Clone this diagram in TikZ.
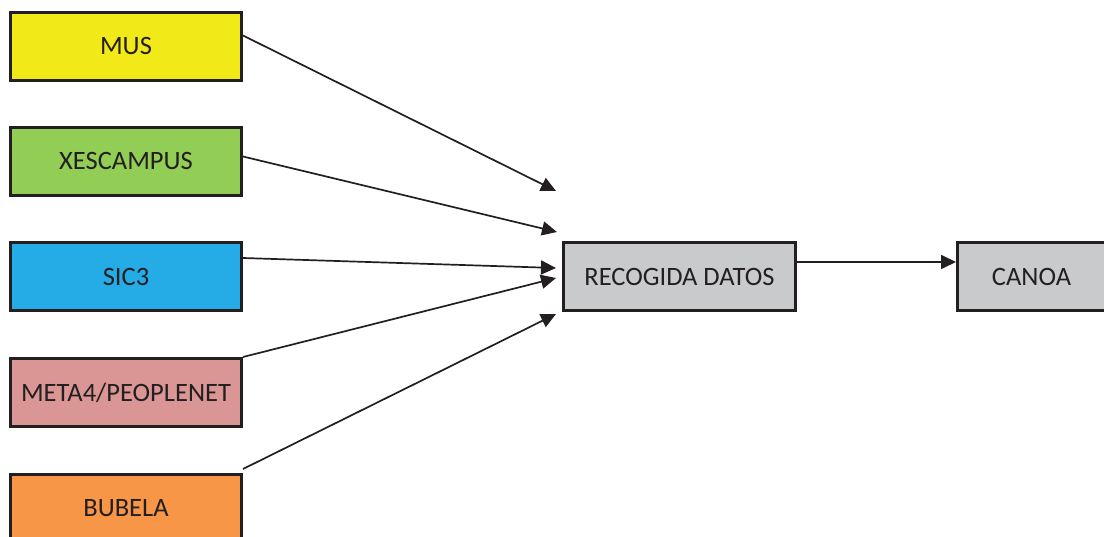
\documentclass[tikz,border=0pt]{standalone}
\usepackage{fontspec}
\setmainfont{Carlito}
\usepackage{xcolor}
\usetikzlibrary{arrows.meta, positioning}
\definecolor{musyellow}{HTML}{F2EA18}
\definecolor{xesgreen}{HTML}{92CD55}
\definecolor{sicblue}{HTML}{25ABE5}
\definecolor{metapink}{HTML}{DA9695}
\definecolor{bubelaorange}{HTML}{F79646}
\definecolor{datosgray}{HTML}{C9CACC}
\definecolor{inkdark}{HTML}{231F20}

\begin{document}
\begin{tikzpicture}[
    x=1pt, y=-1pt,
    source/.style={rectangle, draw=inkdark, line width=3pt, minimum width=231pt, minimum height=68pt, text=inkdark, font=\fontsize{26.5}{30}\selectfont},
    stage/.style={source, fill=datosgray},
    arrow/.style={-{Triangle[length=15pt, width=14pt]}, line width=1.7pt, color=inkdark}
]
\useasboundingbox (0,0) rectangle (1104,537);

% Source systems
\node[source, fill=musyellow] (mus) at (126,46.5) {MUS};
\node[source, fill=xesgreen] (xescampus) at (126,161.5) {XESCAMPUS};
\node[source, fill=sicblue] (sic) at (126,277) {SIC3};
\node[source, fill=metapink] (meta) at (126,392.5) {META4/PEOPLENET};
\node[source, fill=bubelaorange] (bubela) at (126,508.5) {BUBELA};

% Data collection and target
\node[stage, minimum width=232pt] (datos) at (679.5,277) {RECOGIDA DATOS};
\node[stage, minimum width=148pt] (canoa) at (1031.5,277) {CANOA};

% Arrow tips in front of the collection box
\coordinate (tipmus) at (556,191);
\coordinate (tipxes) at (557,232);
\coordinate (tipsic) at (556,268);
\coordinate (tipmeta) at (556,278);
\coordinate (tipbubela) at (556,314);

\draw[arrow] ([yshift=11pt]mus.east) -- (tipmus);
\draw[arrow] ([yshift=5pt]xescampus.east) -- (tipxes);
\draw[arrow] ([yshift=19pt]sic.east) -- (tipsic);
\draw[arrow] (meta.north east) -- (tipmeta);
\draw[arrow] ([yshift=4pt]bubela.north east) -- (tipbubela);

% Output
\draw[arrow] ([yshift=15pt]datos.east) -- ([yshift=15pt]canoa.west);

\end{tikzpicture}
\end{document}
